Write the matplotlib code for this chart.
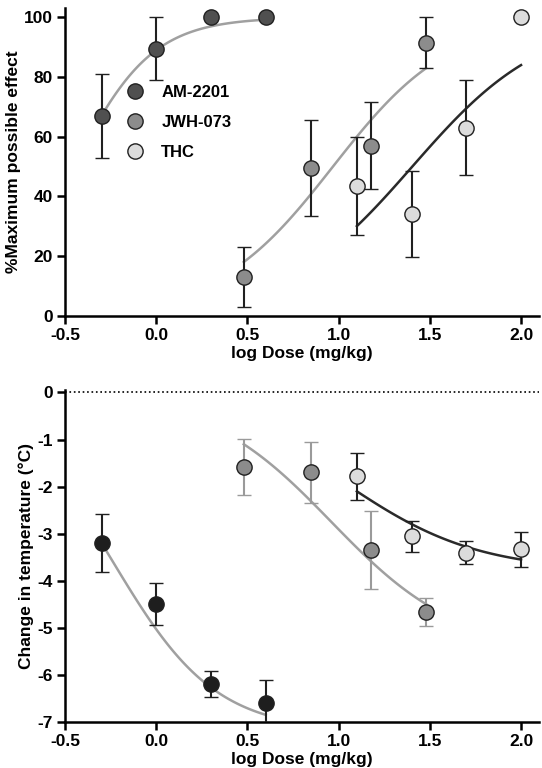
import numpy as np
import matplotlib.pyplot as plt

plt.rcParams['font.family'] = ['Liberation Sans', 'DejaVu Sans']
plt.rcParams['font.weight'] = 'bold'

# top panel: % maximum possible effect
am_x = [-0.3, 0.0, 0.3, 0.6]
am_mpe = [67, 89.5, 100, 100]
am_mpe_err = [14, 10.5, 0, 0]
jwh_x = [0.48, 0.85, 1.18, 1.48]
jwh_mpe = [13, 49.5, 57, 91.5]
jwh_mpe_err = [10, 16, 14.5, 8.5]
thc_x = [1.1, 1.4, 1.7, 2.0]
thc_mpe = [43.5, 34, 63, 100]
thc_mpe_err = [16.5, 14.5, 16, 0]

# bottom panel: change in temperature
am_temp = [-3.2, -4.5, -6.2, -6.6]
am_temp_err = [0.62, 0.45, 0.28, 0.5]
jwh_temp = [-1.58, -1.7, -3.35, -4.67]
jwh_temp_err = [0.6, 0.65, 0.83, 0.3]
thc_temp = [-1.78, -3.05, -3.4, -3.33]
thc_temp_err = [0.5, 0.33, 0.25, 0.37]

# fitted curve parameters (bottom, top, logED50, hill)
fit_mpe = {'am': (0, 100, -0.454, 2.0), 'jwh': (0, 100, 0.969, 1.347), 'thc': (0, 100, 1.404, 1.209)}
fit_temp = {'am': (0, -7.2, -0.237, 1.542), 'jwh': (0, -5.5, 0.96, 1.255), 'thc': (0, -3.8, 1.022, 1.177)}


def curve(x, p):
    lo, hi, x50, h = p
    return lo + (hi - lo) / (1 + 10 ** ((x50 - x) * h))


c_am, c_jwh, c_thc = '#505050', '#8c8c8c', '#dcdcdc'
c_fit_light, c_fit_dark = '#a0a0a0', '#2a2a2a'

fig = plt.figure(figsize=(5.42, 7.68), dpi=100)
ax1 = fig.add_axes([0.12, 0.589, 0.875, 0.40])
ax2 = fig.add_axes([0.12, 0.06, 0.875, 0.432])


def style(ax):
    for s in ['top', 'right']:
        ax.spines[s].set_visible(False)
    for s in ['left', 'bottom']:
        ax.spines[s].set_linewidth(1.8)
    ax.tick_params(width=1.8, length=6, labelsize=12.5, pad=3)
    ax.set_xlim(-0.5, 2.1)
    ax.set_xticks([-0.5, 0.0, 0.5, 1.0, 1.5, 2.0])
    ax.set_xticklabels(['-0.5', '0.0', '0.5', '1.0', '1.5', '2.0'])
    ax.set_xlabel('log Dose (mg/kg)', fontsize=12.5, fontweight='bold', labelpad=2)


def series(ax, x, y, err, fit, fc, fitc, ecol, label, lo, hi):
    xs = np.linspace(lo, hi, 100)
    ax.plot(xs, curve(xs, fit), color=fitc, lw=1.8, zorder=1)
    ax.errorbar(x, y, yerr=err, fmt='o', ms=11, mfc=fc, mec='#202020', mew=1,
                ecolor=ecol, elinewidth=1.5, capsize=5, capthick=1.5, label=label, zorder=3)


series(ax1, am_x, am_mpe, am_mpe_err, fit_mpe['am'], c_am, c_fit_light, '#202020', 'AM-2201', -0.3, 0.6)
series(ax1, jwh_x, jwh_mpe, jwh_mpe_err, fit_mpe['jwh'], c_jwh, c_fit_light, '#202020', 'JWH-073', 0.48, 1.48)
series(ax1, thc_x, thc_mpe, thc_mpe_err, fit_mpe['thc'], c_thc, c_fit_dark, '#202020', 'THC', 1.1, 2.0)
style(ax1)
ax1.set_ylim(0, 103)
ax1.set_yticks([0, 20, 40, 60, 80, 100])
ax1.set_ylabel('%Maximum possible effect', fontsize=12.5, fontweight='bold', labelpad=2)
h, l = ax1.get_legend_handles_labels()
h = [hh[0] for hh in h]
ax1.legend(h, l, loc='upper left', bbox_to_anchor=(0.08, 0.8), frameon=False, fontsize=12,
           handletextpad=0.6, labelspacing=0.9)

ax2.axhline(0, color='black', ls=':', lw=1.2)
series(ax2, am_x, am_temp, am_temp_err, fit_temp['am'], '#1e1e1e', c_fit_light, '#202020', 'AM-2201', -0.3, 0.6)
series(ax2, jwh_x, jwh_temp, jwh_temp_err, fit_temp['jwh'], c_jwh, c_fit_light, '#9a9a9a', 'JWH-073', 0.48, 1.48)
series(ax2, thc_x, thc_temp, thc_temp_err, fit_temp['thc'], c_thc, c_fit_dark, '#202020', 'THC', 1.1, 2.0)
style(ax2)
ax2.set_ylim(-7, 0.05)
ax2.set_yticks([0, -1, -2, -3, -4, -5, -6, -7])
ax2.set_yticklabels(['0', '-1', '-2', '-3', '-4', '-5', '-6', '-7'])
ax2.set_ylabel('Change in temperature (°C)', fontsize=12.5, fontweight='bold', labelpad=2)

fig.savefig('out.png', dpi=100)
